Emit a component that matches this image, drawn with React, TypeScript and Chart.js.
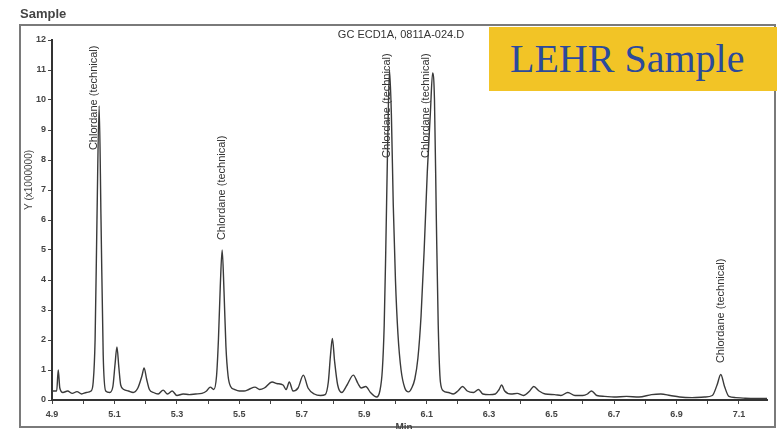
import React, { useEffect, useRef } from "react";
import { Chart, registerables } from "chart.js";

Chart.register(...registerables);

const times = [
  4.9, 4.915, 4.92, 4.925, 4.935, 4.95, 4.965, 4.98, 4.995, 5.01, 5.025, 5.032, 5.038, 5.044, 5.051, 5.057,
  5.064, 5.072, 5.085, 5.095, 5.102, 5.108, 5.114, 5.12, 5.13, 5.145, 5.16, 5.175, 5.188, 5.195, 5.203, 5.212,
  5.225, 5.24, 5.256, 5.27, 5.285, 5.3, 5.32, 5.34, 5.36, 5.38, 5.395, 5.407, 5.418, 5.427, 5.433, 5.439,
  5.445, 5.451, 5.457, 5.464, 5.472, 5.485, 5.5, 5.515, 5.53, 5.55, 5.565, 5.58, 5.605, 5.62, 5.64, 5.65,
  5.66, 5.672, 5.688, 5.705, 5.72, 5.74, 5.76, 5.775, 5.785, 5.792, 5.798, 5.805, 5.815, 5.828, 5.845, 5.865,
  5.88, 5.89, 5.905, 5.92, 5.94, 5.95, 5.958, 5.964, 5.969, 5.975, 5.981, 5.987, 5.993, 6.0, 6.008, 6.018,
  6.03, 6.042, 6.052, 6.062, 6.072, 6.082, 6.092, 6.102, 6.112, 6.119, 6.125, 6.131, 6.137, 6.144, 6.154, 6.17,
  6.185, 6.2, 6.215, 6.23, 6.25, 6.266, 6.28, 6.3, 6.32, 6.332, 6.34, 6.35, 6.37, 6.39, 6.41, 6.43,
  6.443, 6.46, 6.48, 6.51, 6.53, 6.552, 6.575, 6.6, 6.615, 6.628, 6.645, 6.67, 6.7, 6.74, 6.78, 6.82,
  6.85, 6.88, 6.91, 6.95, 6.99, 7.015, 7.03, 7.042, 7.054, 7.068, 7.09, 7.12, 7.15, 7.19,
];

const signal = [
  0.3, 0.3, 1.0, 0.4, 0.25, 0.3, 0.22, 0.28, 0.2, 0.25, 0.3, 0.6, 2.0, 6.0, 9.8, 6.0,
  1.5, 0.3, 0.25, 0.45, 1.2, 1.77, 1.1, 0.5, 0.35, 0.3, 0.25, 0.4, 0.8, 1.07, 0.7, 0.35,
  0.25, 0.2, 0.33, 0.2, 0.3, 0.15, 0.2, 0.18, 0.2, 0.22, 0.3, 0.43, 0.35, 0.8, 2.0, 3.8,
  5.0, 3.6, 1.8, 0.8, 0.45, 0.35, 0.3, 0.3, 0.35, 0.43, 0.35, 0.4, 0.6, 0.55, 0.5, 0.35,
  0.6, 0.3, 0.4, 0.83, 0.4, 0.2, 0.15, 0.18, 0.6, 1.5, 2.05, 1.3, 0.5, 0.25, 0.5, 0.83,
  0.55, 0.4, 0.45, 0.25, 0.1, 0.3, 1.0, 2.5, 5.0, 8.5, 11.0, 9.5, 6.5, 4.0, 2.2, 1.0,
  0.4, 0.27, 0.4, 0.7, 1.4, 2.8, 5.0, 7.6, 9.6, 10.9, 10.0, 6.0, 2.5, 0.6, 0.3, 0.25,
  0.2, 0.3, 0.45, 0.3, 0.25, 0.35, 0.2, 0.18, 0.2, 0.35, 0.5, 0.3, 0.2, 0.22, 0.15, 0.3,
  0.45, 0.3, 0.2, 0.18, 0.15, 0.25, 0.15, 0.15, 0.2, 0.3, 0.15, 0.12, 0.1, 0.12, 0.1, 0.18,
  0.2, 0.15, 0.1, 0.08, 0.1, 0.15, 0.5, 0.85, 0.45, 0.12, 0.08, 0.06, 0.05, 0.05,
];

const xTickValues = [4.9, 5.0, 5.1, 5.2, 5.3, 5.4, 5.5, 5.6, 5.7, 5.8, 5.9, 6.0, 6.1, 6.2, 6.3, 6.4, 6.5, 6.6, 6.7, 6.8, 6.9, 7.0, 7.1];
const xTickLabels = ["4.9", "5.1", "5.3", "5.5", "5.7", "5.9", "6.1", "6.3", "6.5", "6.7", "6.9", "7.1"];
const yTickValues = [0, 1, 2, 3, 4, 5, 6, 7, 8, 9, 10, 11, 12];

const peakLabelTimes = [5.035, 5.445, 5.974, 6.097, 7.042];
const peakLabelBottoms = [8.33, 5.33, 8.07, 8.07, 1.23];
const peakLabelText = "Chlordane (technical)";

const chartTitle = "GC ECD1A, 0811A-024.D";
const panelTitle = "Sample";
const yAxisTitle = "Y (x1000000)";
const xAxisTitle = "Min";
const badgeText = "LEHR Sample";

const FONT = "'Liberation Sans', Arial, sans-serif";

const decorPlugin = {
  id: "decor",
  beforeDraw(chart: any) {
    const ctx = chart.ctx;
    ctx.save();
    ctx.fillStyle = "#ffffff";
    ctx.fillRect(0, 0, chart.width, chart.height);
    ctx.strokeStyle = "#7a7a7a";
    ctx.lineWidth = 2;
    ctx.strokeRect(20, 25, 755, 402);
    ctx.restore();
  },
  beforeDatasetsDraw(chart: any) {
    const ctx = chart.ctx;
    const xs = chart.scales.x;
    const ys = chart.scales.y;
    ctx.save();
    ctx.fillStyle = "#333";
    ctx.font = `11px ${FONT}`;
    ctx.textAlign = "center";
    ctx.textBaseline = "middle";
    ctx.fillText(chartTitle, 401, 35);

    peakLabelTimes.forEach((t, i) => {
      const x = xs.getPixelForValue(t);
      const y = ys.getPixelForValue(peakLabelBottoms[i]);
      ctx.save();
      ctx.translate(x, y);
      ctx.rotate(-Math.PI / 2);
      ctx.fillStyle = "#333";
      ctx.font = `11px ${FONT}`;
      ctx.textAlign = "left";
      ctx.textBaseline = "middle";
      ctx.fillText(peakLabelText, 0, 0);
      ctx.restore();
    });

    ctx.save();
    ctx.translate(29, 180);
    ctx.rotate(-Math.PI / 2);
    ctx.font = `10px ${FONT}`;
    ctx.textAlign = "center";
    ctx.textBaseline = "middle";
    ctx.fillStyle = "#444";
    ctx.fillText(yAxisTitle, 0, 0);
    ctx.restore();

    ctx.font = `bold 10px ${FONT}`;
    ctx.textAlign = "center";
    ctx.textBaseline = "top";
    ctx.fillStyle = "#444";
    ctx.fillText(xAxisTitle, 404, 423);
    ctx.restore();
  },
};

export default function App() {
  const ref = useRef<HTMLCanvasElement | null>(null);
  useEffect(() => {
    if (!ref.current) return;
    const data = times.map((t, i) => ({ x: t, y: signal[i] }));
    const chart = new Chart(ref.current, {
      type: "line",
      data: {
        datasets: [
          {
            data,
            borderColor: "#3a3a3a",
            borderWidth: 1.4,
            pointRadius: 0,
            cubicInterpolationMode: "monotone",
            fill: false,
          },
        ],
      },
      options: {
        animation: false,
        responsive: false,
        maintainAspectRatio: false,
        layout: { padding: { left: 22, right: 17, top: 40, bottom: 0 } },
        plugins: { legend: { display: false }, tooltip: { enabled: false }, title: { display: false } },
        scales: {
          x: {
            type: "linear",
            min: 4.9,
            max: 7.19,
            afterBuildTicks: (scale: any) => {
              scale.ticks = xTickValues.map((v) => ({ value: v }));
            },
            afterFit: (scale: any) => {
              scale.height = 29;
            },
            ticks: {
              autoSkip: false,
              maxRotation: 0,
              padding: 5,
              color: "#444",
              font: { family: FONT, size: 9, weight: "bold" },
              callback: (value: any) => {
                const s = Number(value).toFixed(1);
                return xTickLabels.includes(s) ? s : "";
              },
            },
            grid: { drawOnChartArea: false, drawTicks: true, tickLength: 4, color: "#444", lineWidth: 1 },
            border: { display: true, color: "#333", width: 2 },
          },
          y: {
            type: "linear",
            min: 0,
            max: 12,
            afterBuildTicks: (scale: any) => {
              scale.ticks = yTickValues.map((v) => ({ value: v }));
            },
            afterFit: (scale: any) => {
              scale.width = 30;
            },
            ticks: {
              autoSkip: false,
              padding: 2,
              color: "#444",
              font: { family: FONT, size: 9, weight: "bold" },
            },
            grid: { drawOnChartArea: false, drawTicks: true, tickLength: 4, color: "#444", lineWidth: 1 },
            border: { display: true, color: "#333", width: 2 },
          },
        },
      },
      plugins: [decorPlugin],
    });
    return () => chart.destroy();
  }, []);

  return (
    <div style={{ position: "fixed", left: 0, top: 0, width: 784, height: 429, overflow: "hidden", background: "#fff" }}>
      <canvas ref={ref} width={784} height={429} style={{ position: "absolute", left: 0, top: 0, width: 784, height: 429 }} />
      <div
        style={{
          position: "absolute",
          left: 20,
          top: 6,
          fontFamily: FONT,
          fontWeight: "bold",
          fontSize: 13,
          lineHeight: "16px",
          color: "#444",
        }}
      >
        {panelTitle}
      </div>
      <div
        style={{
          position: "absolute",
          left: 489,
          top: 27,
          width: 288,
          height: 64,
          background: "#F2C426",
        }}
      >
        <span
          style={{
            position: "absolute",
            left: 21,
            top: 12,
            fontFamily: "'Liberation Serif', 'Times New Roman', serif",
            fontSize: 40,
            lineHeight: "40px",
            color: "#2B4A9C",
            whiteSpace: "nowrap",
          }}
        >
          {badgeText}
        </span>
      </div>
    </div>
  );
}
